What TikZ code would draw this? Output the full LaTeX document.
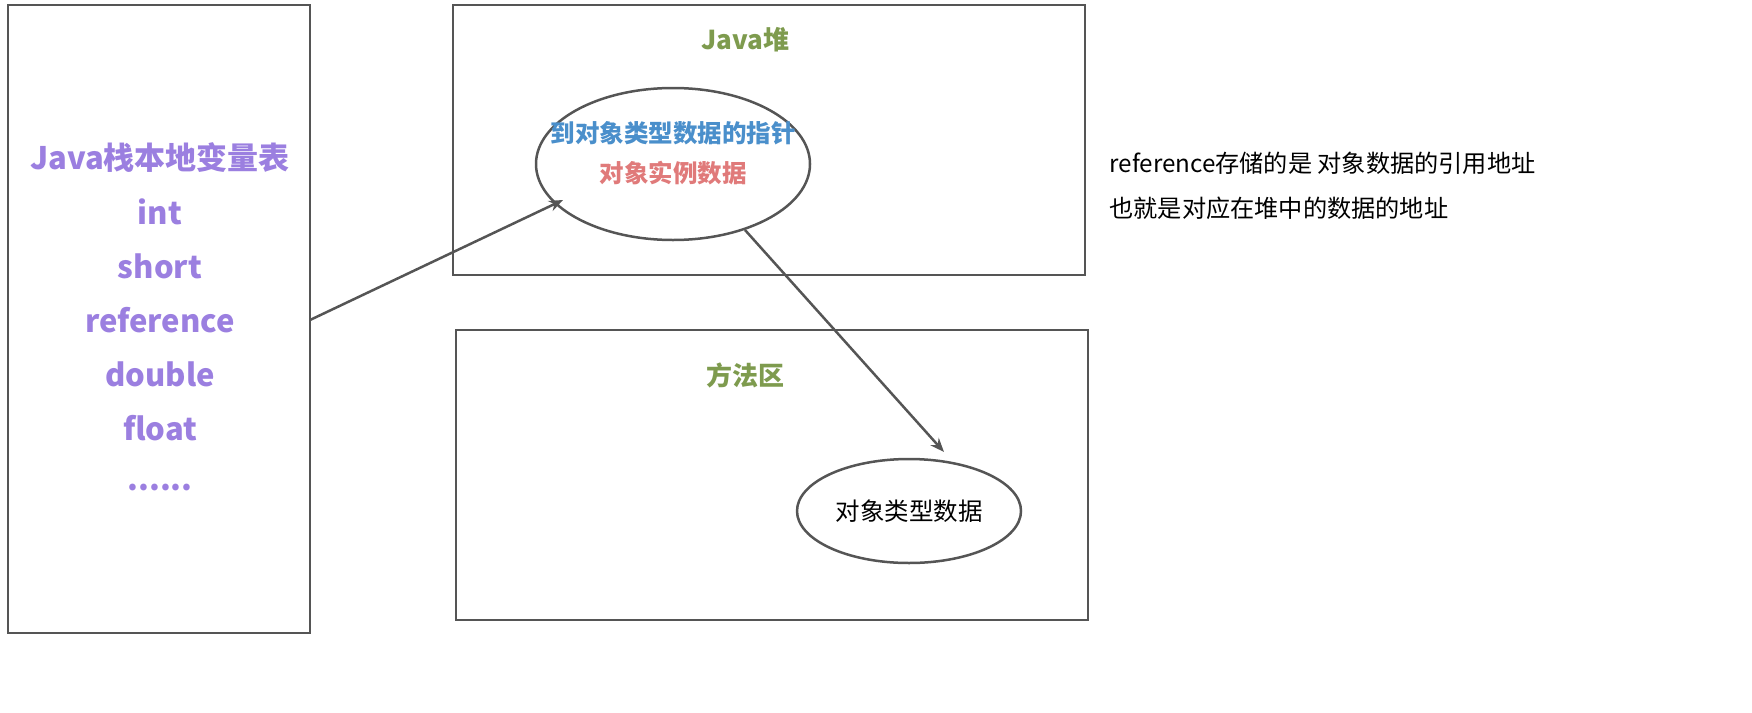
\documentclass[tikz,border=0pt]{standalone}
\usepackage{fontspec}
\setmainfont{Noto Sans CJK SC}
\usetikzlibrary{arrows.meta}
\definecolor{purp}{HTML}{9B7FE0}
\definecolor{grn}{HTML}{7E9B4E}
\definecolor{blu}{HTML}{4A8FCB}
\definecolor{rd}{HTML}{E07A7A}
\definecolor{ln}{HTML}{555555}
\begin{document}
\begin{tikzpicture}[x=1pt,y=-1pt,
  box/.style={draw=ln,line width=2.5pt},
  ell/.style={draw=ln,line width=2.5pt},
  arr/.style={draw=ln,line width=2.5pt,-{Stealth[length=14pt,width=11pt]}},
  lt/.style={text=purp,font=\bfseries\fontsize{31}{33}\selectfont},
  tt/.style={text=grn,font=\bfseries\fontsize{26}{28}\selectfont}]
\useasboundingbox (0,0) rectangle (1752,712);
\draw[box] (8,5) rectangle (310,633);
\draw[box] (453,5) rectangle (1085,275);
\draw[box] (456,330) rectangle (1088,620);
\node[lt] (l1) at (160,158) {Java栈本地变量表};
\node[lt] (l2) at (160,212) {int};
\node[lt] (l3) at (160,266) {short};
\node[lt] (l4) at (160,320) {reference};
\node[lt] (l5) at (160,374) {double};
\node[lt] (l6) at (160,428) {float};
\node[lt] (l7) at (160,488) {......};
\node[tt] (h) at (745,40) {Java堆};
\node[tt] (m) at (745,375) {方法区};
\draw[ell] (673,164) ellipse [x radius=137, y radius=76];
\node[text=blu,font=\bfseries\fontsize{24.5}{26}\selectfont] (e1) at (673,133) {到对象类型数据的指针};
\node[text=rd,font=\bfseries\fontsize{24.5}{26}\selectfont] (e2) at (673,173) {对象实例数据};
\draw[ell] (909,511) ellipse [x radius=112, y radius=52];
\node[font=\fontsize{24.5}{26}\selectfont] (t) at (909,511) {对象类型数据};
\coordinate (a1) at (310,320);
\coordinate (a2) at (563,200);
\coordinate (b1) at (745,230);
\coordinate (b2) at (944,452);
\draw[arr] (a1) -- (a2);
\draw[arr] (b1) -- (b2);
\node[anchor=west,font=\fontsize{24.2}{26}\selectfont] (r1) at (1106,163) {reference存储的是 对象数据的引用地址};
\node[anchor=west,font=\fontsize{24.2}{26}\selectfont] (r2) at (1106,208) {也就是对应在堆中的数据的地址};
\end{tikzpicture}
\end{document}
